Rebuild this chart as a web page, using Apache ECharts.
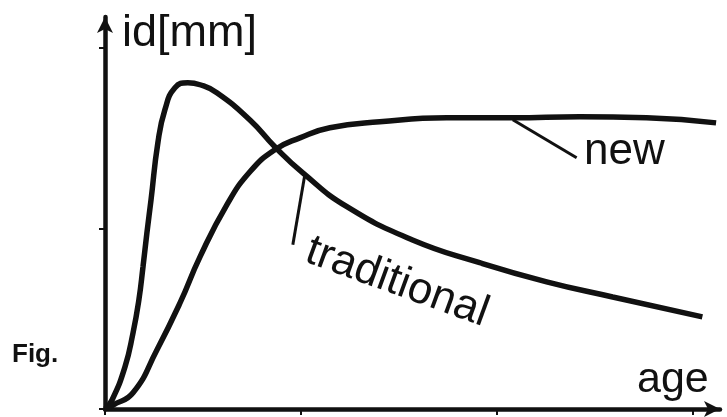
<!DOCTYPE html>
<html>
<head>
<meta charset="utf-8">
<script src="https://cdn.jsdelivr.net/npm/echarts@6/dist/echarts.min.js"></script>
<style>
  html, body { margin: 0; padding: 0; background: #fff; }
  #main { width: 727px; height: 417px; }
</style>
</head>
<body>
<div id="main"></div>
<script>
// curves, [age, id]
const traditional = [
  [0, 0], [0.036, 0.05], [0.102, 0.233], [0.143, 0.421], [0.173, 0.604],
  [0.194, 0.787], [0.214, 0.975], [0.235, 1.158], [0.27, 1.474], [0.306, 1.657],
  [0.357, 1.778], [0.423, 1.806], [0.485, 1.795], [0.571, 1.751], [0.74, 1.6],
  [0.867, 1.452], [1.01, 1.307], [1.235, 1.12], [1.57, 0.936], [1.913, 0.81],
  [2.255, 0.704], [2.592, 0.62], [3.05, 0.51]
];
const newCurve = [
  [0, 0], [0.041, 0.022], [0.143, 0.09], [0.265, 0.327], [0.383, 0.587],
  [0.485, 0.842], [0.622, 1.13], [0.74, 1.313], [0.867, 1.435], [0.995, 1.501],
  [1.148, 1.557], [1.403, 1.59], [1.745, 1.612], [2.082, 1.612], [2.423, 1.618],
  [2.765, 1.612], [3.12, 1.584]
];
// leader lines from curve to label
const tradLeader = [[1.02, 1.296], [0.959, 0.909]];
const newLeader = [[2.082, 1.601], [2.408, 1.391]];
const tickValues = [0, 1, 2, 3];

const font = "'Liberation Sans', Arial, sans-serif";
const ink = '#111';

let myChart = echarts.init(document.getElementById('main'));

function leader(pts) {
  return {
    silent: true,
    symbol: 'none',
    label: { show: false },
    lineStyle: { color: ink, width: 3, type: 'solid' },
    data: [[{ coord: pts[0] }, { coord: pts[1] }]]
  };
}

const axisBase = {
  type: 'value',
  min: 0,
  interval: 1,
  axisLabel: { show: false },
  splitLine: { show: false },
  axisLine: {
    show: true,
    onZero: false,
    symbol: ['none', 'arrow'],
    symbolSize: [12, 16],
    lineStyle: { color: ink, width: 4.5 }
  },
  axisTick: { show: true, length: 6, customValues: tickValues, lineStyle: { color: ink, width: 2 } }
};

// text is placed by its top edge; baseline sits ~0.8em below it
function label(text, x, baseline, size, extra) {
  return Object.assign({
    type: 'text',
    x: x,
    y: baseline - 0.8 * size,
    style: { text: text, font: size + 'px ' + font, fill: ink }
  }, extra || {});
}

const figLabel = label('Fig.', 12, 363, 26);
figLabel.style.font = 'bold 26px ' + font;

myChart.setOption({
  animation: false,
  grid: { left: 105, right: 7, top: 17, bottom: 8 },
  xAxis: Object.assign({}, axisBase, { max: 3.14 }),
  yAxis: Object.assign({}, axisBase, { max: 2.17 }),
  series: [
    {
      name: 'traditional',
      type: 'line',
      data: traditional,
      smooth: 0.5,
      showSymbol: false,
      lineStyle: { color: ink, width: 5.5 },
      markLine: leader(tradLeader)
    },
    {
      name: 'new',
      type: 'line',
      data: newCurve,
      smooth: 0.5,
      showSymbol: false,
      lineStyle: { color: ink, width: 5.5 },
      markLine: leader(newLeader)
    }
  ],
  graphic: [
    label('id[mm]', 122, 47, 45),
    label('new', 584, 165, 44),
    label('age', 637, 393, 43),
    figLabel,
    {
      type: 'text',
      x: 315,
      y: 229,
      rotation: -20 * Math.PI / 180,
      style: { text: 'traditional', font: '44px ' + font, fill: ink }
    }
  ]
});

window.onresize = function () {
  myChart.resize();
};
</script>
</body>
</html>
